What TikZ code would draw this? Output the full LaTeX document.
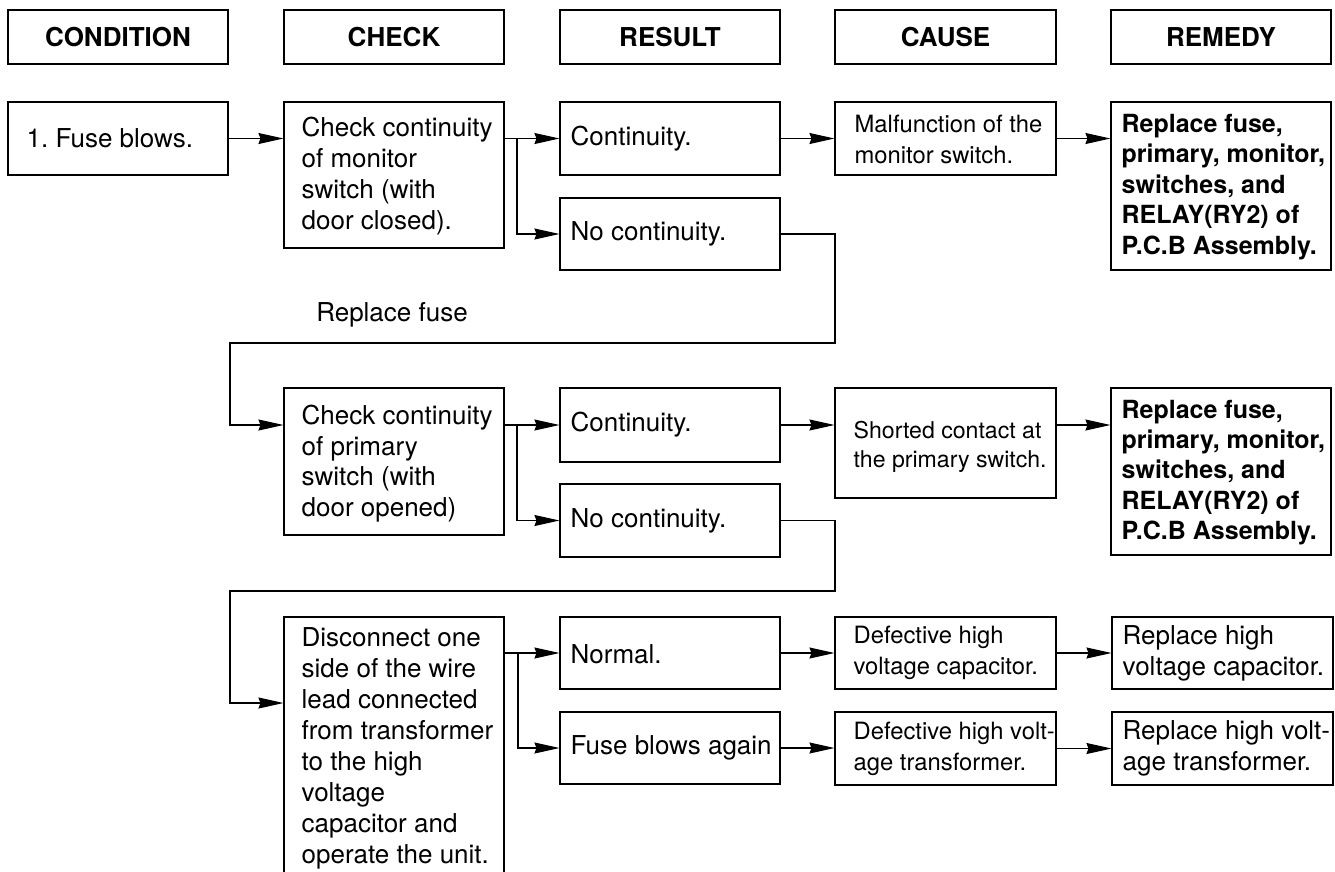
\documentclass[tikz,border=0pt]{standalone}
\usepackage{fontspec}
\setmainfont{TeX Gyre Heros}
\usetikzlibrary{arrows.meta}
\frenchspacing
\begin{document}
\frenchspacing
\begin{tikzpicture}[x=1pt,y=-1pt,
  box/.style={draw=black, line width=1.1pt, inner sep=0pt, minimum width=220pt},
  hdr/.style={box, line width=1.6pt, minimum height=54pt, font=\bfseries\fontsize{26}{30}\selectfont},
  txt/.style={inner sep=0pt, align=left, anchor=west, font=\frenchspacing\fontsize{26}{30.7}\selectfont},
  dtxt/.style={txt, font=\frenchspacing\fontsize{26}{31}\selectfont},
  ctxt/.style={txt, font=\frenchspacing\fontsize{23.8}{31}\selectfont},
  stxt/.style={txt, font=\frenchspacing\fontsize{23.1}{29}\selectfont},
  btxt/.style={txt, font=\frenchspacing\bfseries\fontsize{25}{30.4}\selectfont},
  arr/.style={line width=1.1pt, -{Stealth[length=25pt,width=11pt,inset=2pt]}},
]
\useasboundingbox (0,0) rectangle (1335,871);
\fill[white] (0,0) rectangle (1335,871);

% headers
\node[hdr] (hcond) at (118,37) {CONDITION};
\node[hdr] (hchk) at (394,37) {CHECK};
\node[hdr] (hres) at (670,37) {RESULT};
\node[hdr, minimum width=221pt] (hcau) at (945.5,37) {CAUSE};
\node[hdr] (hrem) at (1221,37) {REMEDY};

% boxes
\node[box, minimum height=73pt] (fuse) at (118,138.5) {};
\node[box, minimum height=146pt] (chk1) at (394,175) {};
\node[box, minimum height=73pt] (cont1) at (670,138.5) {};
\node[box, minimum height=72pt] (nc1) at (670,234) {};
\node[box, minimum width=221pt, minimum height=73pt] (malf) at (945.5,138.5) {};
\node[box, minimum height=168pt] (rem1) at (1221,186) {};

\node[box, minimum height=147pt] (chk2) at (394,461.5) {};
\node[box, minimum height=74pt] (cont2) at (670,425) {};
\node[box, minimum height=73pt] (nc2) at (670,520.5) {};
\node[box, minimum width=221pt, minimum height=110pt] (short) at (945.5,443) {};
\node[box, minimum height=167pt] (rem2) at (1221,471.5) {};

\node[box, minimum height=283pt] (disc) at (394,758.5) {};
\node[box, minimum height=72pt] (normal) at (670,653) {};
\node[box, minimum height=72pt] (fba) at (670,748) {};
\node[box, minimum width=221pt, minimum height=72pt] (defcap) at (945.5,653) {};
\node[box, minimum width=221pt, minimum height=73pt] (defx) at (945.5,748.5) {};
\node[box, minimum width=221pt, minimum height=72pt] (repcap) at (1222.5,653) {};
\node[box, minimum width=221pt, minimum height=73pt] (repx) at (1222.5,748.5) {};

% texts
\node[txt] (tfuse) at ([xshift=19pt]fuse.west) {1. Fuse blows.};
\node[txt] (tchk1) at ([xshift=18pt,yshift=-1pt]chk1.west) {Check continuity\\of monitor\\switch (with\\door closed).};
\node[txt] (tcont1) at ([xshift=11pt]cont1.west) {Continuity.};
\node[txt] (tnc1) at ([xshift=11pt]nc1.west) {No continuity.};
\node[ctxt] (tmalf) at ([xshift=20pt,yshift=-1pt]malf.west) {Malfunction of the\\monitor switch.};
\node[btxt] (trem1) at ([xshift=11pt,yshift=-1pt]rem1.west) {Replace fuse,\\primary, monitor,\\switches, and\\RELAY(RY2) of\\P.C.B Assembly.};

\node[txt, anchor=center] (trf) at (392,315) {Replace fuse};

\node[txt] (tchk2) at ([xshift=18pt,yshift=-2pt]chk2.west) {Check continuity\\of primary\\switch (with\\door opened)};
\node[txt] (tcont2) at ([xshift=11pt]cont2.west) {Continuity.};
\node[txt] (tnc2) at ([xshift=11pt]nc2.west) {No continuity.};
\node[stxt] (tshort) at ([xshift=19pt,yshift=-4pt]short.west) {Shorted contact at\\the primary switch.};
\node[btxt] (trem2) at ([xshift=11pt,yshift=-1pt]rem2.west) {Replace fuse,\\primary, monitor,\\switches, and\\RELAY(RY2) of\\P.C.B Assembly.};

\node[dtxt, anchor=north west] (tdisc) at ([xshift=18pt,yshift=-11pt]disc.north west) {Disconnect one\\side of the wire\\lead connected\\from transformer\\to the high\\voltage\\capacitor and\\operate the unit.};
\node[txt] (tnormal) at ([xshift=11pt,yshift=-1pt]normal.west) {Normal.};
\node[txt] (tfba) at ([xshift=11pt]fba.west) {Fuse blows again};
\node[ctxt] (tdefcap) at ([xshift=19pt]defcap.west) {Defective high\\voltage capacitor.};
\node[ctxt] (tdefx) at ([xshift=19pt]defx.west) {Defective high volt-\\age transformer.};
\node[txt] (trepcap) at ([xshift=11pt]repcap.west) {Replace high\\voltage capacitor.};
\node[txt] (trepx) at ([xshift=11pt]repx.west) {Replace high volt-\\age transformer.};

% connectors
\coordinate (j1) at (517,138.5);
\coordinate (j2) at (517,425);
\coordinate (j3) at (518,653);
\coordinate (k1) at (835,343);
\coordinate (k2) at (230,343);
\coordinate (k3) at (835,591);
\coordinate (k4) at (230,591);
\coordinate (y3) at (0,703);

\draw[arr] (fuse.east) -- (fuse.east -| chk1.west);
\draw[arr] (cont1 -| chk1.east) -- (cont1.west);
\draw[arr] (j1) |- (nc1.west);
\draw[arr] (cont1.east) -- (malf.west);
\draw[arr] (malf.east) -- (malf.east -| rem1.west);
\draw[arr] (nc1.east) -| (k1) -- (k2) |- (cont2 -| chk2.west);

\draw[arr] (cont2 -| chk2.east) -- (cont2.west);
\draw[arr] (j2) |- (nc2.west);
\draw[arr] (cont2.east) -- (cont2.east -| short.west);
\draw[arr] (cont2 -| short.east) -- (cont2 -| rem2.west);
\draw[arr] (nc2.east) -| (k3) -- (k4) |- (disc.west |- y3);

\draw[arr] (normal -| disc.east) -- (normal.west);
\draw[arr] (j3) |- (fba.west);
\draw[arr] (normal.east) -- (defcap.west);
\draw[arr] (defcap.east) -- (repcap.west);
\draw[arr] (fba.east) -- (defx.west |- fba.east);
\draw[arr] (defx.east) -- (repx.west);
\end{tikzpicture}
\end{document}
